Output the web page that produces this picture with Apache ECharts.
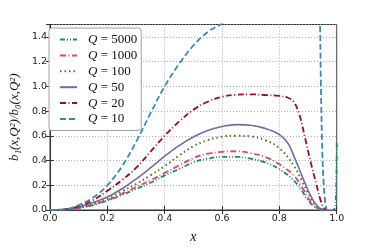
<!DOCTYPE html>
<html>
<head>
<meta charset="utf-8">
<script src="https://cdn.jsdelivr.net/npm/echarts@6/dist/echarts.min.js"></script>
<style>html,body{margin:0;padding:0;background:#fff;}#c{width:374px;height:249px;}</style>
</head>
<body>
<div id="c"></div>
<script>
// Legend / series labels (top to bottom in legend)
const seriesNames = ['5000', '1000', '100', '50', '20', '10'];
const seriesColors = ['#188487', '#E2485F', '#467821', '#7A68A6', '#A60628', '#348ABD'];

const xTicks = [0.0, 0.2, 0.4, 0.6, 0.8, 1.0];
const yTicks = [0.0, 0.2, 0.4, 0.6, 0.8, 1.0, 1.2, 1.4];

// Q = 5000
const x5000 = [0, 0.05, 0.1, 0.15, 0.2, 0.25, 0.3, 0.35, 0.4, 0.45, 0.5, 0.55, 0.6, 0.65, 0.7, 0.75, 0.8, 0.85, 0.88, 0.9, 0.92, 0.94, 0.97, 0.99, 0.997, 1.0];
const y5000 = [0, 0.002, 0.015, 0.04, 0.075, 0.12, 0.17, 0.22, 0.28, 0.33, 0.385, 0.415, 0.43, 0.43, 0.415, 0.385, 0.33, 0.24, 0.15, 0.08, 0.03, 0.005, -0.02, 0, 0.1, 0.55];
// Q = 1000
const x1000 = [0, 0.05, 0.1, 0.15, 0.2, 0.25, 0.3, 0.35, 0.4, 0.45, 0.5, 0.55, 0.6, 0.65, 0.7, 0.75, 0.8, 0.85, 0.88, 0.9, 0.92, 0.94, 0.96, 1.0];
const y1000 = [0, 0.002, 0.017, 0.045, 0.08, 0.13, 0.185, 0.24, 0.3, 0.36, 0.42, 0.455, 0.47, 0.475, 0.46, 0.43, 0.37, 0.28, 0.18, 0.1, 0.04, 0.01, 0, -0.02];
// Q = 100
const x100 = [0, 0.05, 0.1, 0.15, 0.2, 0.25, 0.3, 0.35, 0.4, 0.45, 0.5, 0.55, 0.6, 0.65, 0.7, 0.75, 0.8, 0.85, 0.88, 0.9, 0.92, 0.94, 0.96, 1.0];
const y100 = [0, 0.003, 0.02, 0.05, 0.09, 0.15, 0.21, 0.28, 0.355, 0.44, 0.515, 0.565, 0.593, 0.6, 0.595, 0.565, 0.5, 0.36, 0.23, 0.14, 0.06, 0.015, 0, -0.02];
// Q = 50
const x50 = [0, 0.05, 0.1, 0.15, 0.2, 0.25, 0.3, 0.35, 0.4, 0.45, 0.5, 0.55, 0.6, 0.65, 0.7, 0.75, 0.8, 0.83, 0.85, 0.88, 0.9, 0.92, 0.94, 0.96, 1.0];
const y50 = [0, 0.003, 0.025, 0.06, 0.105, 0.17, 0.25, 0.34, 0.435, 0.52, 0.59, 0.642, 0.675, 0.69, 0.685, 0.66, 0.61, 0.54, 0.44, 0.27, 0.16, 0.07, 0.015, 0, -0.02];
// Q = 20
const x20 = [0, 0.05, 0.1, 0.15, 0.2, 0.25, 0.3, 0.35, 0.4, 0.45, 0.5, 0.55, 0.6, 0.65, 0.7, 0.75, 0.8, 0.83, 0.85, 0.87, 0.89, 0.91, 0.93, 0.945, 0.96, 1.0];
const y20 = [0, 0.003, 0.03, 0.08, 0.155, 0.24, 0.34, 0.47, 0.6, 0.715, 0.81, 0.875, 0.915, 0.932, 0.935, 0.93, 0.922, 0.908, 0.875, 0.77, 0.58, 0.38, 0.2, 0.07, 0.005, -0.03];
// Q = 10
const x10 = [0, 0.05, 0.1, 0.15, 0.2, 0.25, 0.3, 0.35, 0.4, 0.45, 0.5, 0.55, 0.6, 0.7, 0.8, 0.9, 0.93, 0.94, 0.945, 0.95, 0.955, 0.96, 0.965, 0.98, 1.0];
const y10 = [0, 0.005, 0.04, 0.1, 0.2, 0.35, 0.55, 0.78, 1.0, 1.18, 1.33, 1.44, 1.51, 1.7, 1.9, 2.2, 2.2, 1.7, 1.0, 0.45, 0.2, 0.06, 0, -0.1, -0.1];

const xs = [x5000, x1000, x100, x50, x20, x10];
const ys = [y5000, y1000, y100, y50, y20, y10];
const dashes = [[5, 2, 1, 2, 1, 2], [6, 2.5, 1, 2.5], [1.5, 3], 'solid', [6, 2.5, 1, 2.5], [6, 3]];
const widths = [1.8, 1.8, 2, 1.6, 1.8, 1.8];

const series = seriesNames.map((n, i) => ({
  name: n,
  type: 'line',
  xAxisIndex: 0,
  yAxisIndex: 0,
  showSymbol: false,
  symbol: 'none',
  smooth: 0.4,
  clip: true,
  color: seriesColors[i],
  lineStyle: { color: seriesColors[i], width: widths[i], type: dashes[i] },
  data: xs[i].map((x, j) => [x, ys[i][j]])
}));

const chart = echarts.init(document.getElementById('c'), null, { renderer: 'canvas' });
const tickFont = { fontFamily: 'DejaVu Sans', fontSize: 9.5, color: '#222' };
const gridLine = { show: true, lineStyle: { color: '#9a9a9a', type: [1, 2], width: 0.8 } };

chart.setOption({
  animation: false,
  backgroundColor: '#fff',
  grid: { left: 46.7, right: 37.3, top: 24.5, bottom: 31.7, show: true, borderColor: '#333', borderWidth: 1, backgroundColor: 'transparent' },
  legend: {
    orient: 'vertical',
    left: 49, top: 28,
    padding: [5, 4, 5, 10],
    itemWidth: 17, itemHeight: 14, itemGap: 2.9,
    backgroundColor: '#fff', borderColor: '#a0a0a0', borderWidth: 1, borderRadius: 3,
    itemStyle: { opacity: 0 },
    data: seriesNames,
    formatter: n => '{p|}{q|Q}{n| = ' + n + '}',
    textStyle: {
      width: 42,
      rich: {
        p: { width: 6 },
        q: { fontFamily: 'Liberation Serif', fontStyle: 'italic', fontSize: 13, color: '#111' },
        n: { fontFamily: 'Liberation Serif', fontSize: 13, color: '#111' }
      }
    }
  },
  xAxis: [{
    type: 'value', min: 0, max: 1, interval: 0.2, position: 'bottom',
    name: 'x', nameLocation: 'middle', nameGap: 20,
    nameTextStyle: { fontFamily: 'Liberation Serif', fontStyle: 'italic', fontSize: 14, color: '#111' },
    axisLine: { show: true, lineStyle: { color: '#333', width: 1 } },
    axisTick: { show: true, inside: true, length: 4, lineStyle: { color: '#333' } },
    axisLabel: Object.assign({ margin: 4, formatter: v => xTicks.some(t => Math.abs(t - v) < 1e-9) ? v.toFixed(1) : '' }, tickFont),
    splitLine: gridLine
  }, {
    type: 'value', min: 0, max: 1, interval: 0.2, position: 'top',
    axisLine: { show: true, lineStyle: { color: '#333' } },
    axisTick: { show: true, inside: true, length: 4, lineStyle: { color: '#333' } },
    axisLabel: { show: false }, splitLine: { show: false }
  }],
  yAxis: [{
    type: 'value', min: 0, max: 1.5, interval: 0.2, position: 'left',
    name: 'b\u2081(x,Q\u00B2)/b\u2080(x,Q\u00B2)', nameLocation: 'middle', nameGap: 22, nameRotate: 90,
    nameTextStyle: { fontFamily: 'Liberation Serif', fontStyle: 'italic', fontSize: 13, color: '#111' },
    axisLine: { show: true, lineStyle: { color: '#333', width: 1 } },
    axisTick: { show: true, inside: true, length: 4, lineStyle: { color: '#333' } },
    axisLabel: Object.assign({ margin: 3, showMaxLabel: false, formatter: v => yTicks.some(t => Math.abs(t - v) < 1e-9) ? v.toFixed(1) : '' }, tickFont),
    splitLine: gridLine
  }, {
    type: 'value', min: 0, max: 1.5, interval: 0.2, position: 'right',
    axisLine: { show: true, lineStyle: { color: '#333' } },
    axisTick: { show: true, inside: true, length: 4, lineStyle: { color: '#333' } },
    axisLabel: { show: false }, splitLine: { show: false }
  }],
  series: series
});
</script>
</body>
</html>
